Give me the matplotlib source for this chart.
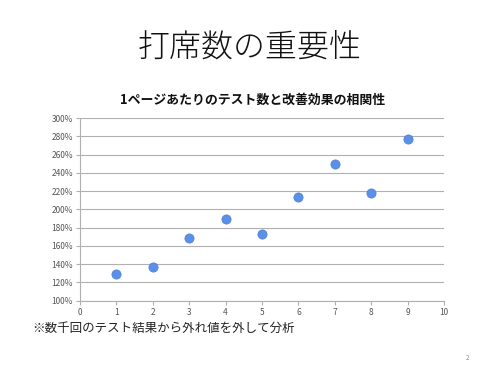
import matplotlib
matplotlib.use("Agg")
import matplotlib.pyplot as plt
from matplotlib.ticker import FuncFormatter, MultipleLocator

plt.rcParams['font.family'] = ['Noto Sans CJK JP', 'DejaVu Sans']

# data
tests_per_page = [1, 2, 3, 4, 5, 6, 7, 8, 9]
improvement = [129, 137, 169, 189, 173, 214, 250, 218, 277]

slide_title = "打席数の重要性"
chart_title = "1ページあたりのテスト数と改善効果の相関性"
footnote = "※数千回のテスト結果から外れ値を外して分析"
page_no = "2"

fig = plt.figure(figsize=(5, 3.75), dpi=100)
fig.patch.set_facecolor("white")

ax = fig.add_axes([0.16, 0.198, 0.728, 0.487])
ax.scatter(tests_per_page, improvement, s=44, color="#5b90e8",
           edgecolor="#4a7fd8", linewidth=0.5, zorder=3)

ax.set_xlim(0, 10)
ax.set_ylim(100, 300)
ax.xaxis.set_major_locator(MultipleLocator(1))
ax.yaxis.set_major_locator(MultipleLocator(20))
ax.yaxis.set_major_formatter(FuncFormatter(lambda v, p: f"{int(v)}%"))
ax.grid(axis="y", color="#b0b0b0", linewidth=0.8)
ax.set_axisbelow(True)

for side in ["top", "right"]:
    ax.spines[side].set_visible(False)
for side in ["left", "bottom"]:
    ax.spines[side].set_color("#b0b0b0")
ax.tick_params(axis="both", labelsize=6, colors="#b0b0b0", labelcolor="#555555",
               length=3, width=0.8, pad=2)

# texts of the slide
fig.text(0.5, 0.87, slide_title, ha="center", va="center", fontsize=23,
         fontweight="light", color="#111111")
fig.text(0.505, 0.733, chart_title, ha="center", va="center", fontsize=9.3,
         fontweight="bold", color="#111111")
fig.text(0.064, 0.125, footnote, ha="left", va="center", fontsize=9,
         color="#222222")
fig.text(0.936, 0.045, page_no, ha="center", va="center", fontsize=4.5,
         color="#888888")

fig.savefig("out.png", dpi=100)
